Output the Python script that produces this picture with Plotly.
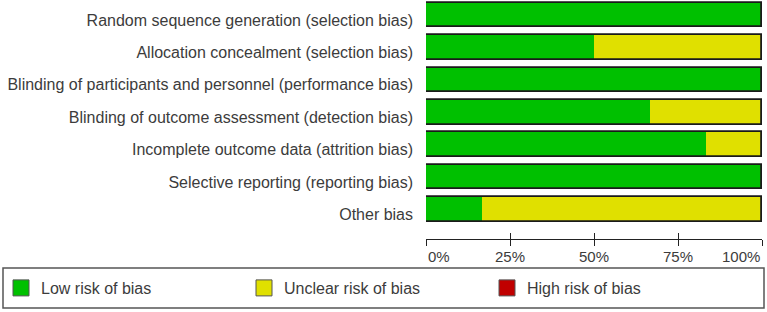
import plotly.graph_objects as go

domains = [
    "Random sequence generation (selection bias)",
    "Allocation concealment (selection bias)",
    "Blinding of participants and personnel (performance bias)",
    "Blinding of outcome assessment (detection bias)",
    "Incomplete outcome data (attrition bias)",
    "Selective reporting (reporting bias)",
    "Other bias",
]
low_risk = [100, 50, 100, 66.7, 83.3, 100, 16.7]
unclear_risk = [0, 50, 0, 33.3, 16.7, 0, 83.3]
high_risk = [0, 0, 0, 0, 0, 0, 0]
series_names = ["Low risk of bias", "Unclear risk of bias", "High risk of bias"]
tick_values = [0, 25, 50, 75, 100]
tick_labels = ["0%", "25%", "50%", "75%", "100%"]

GREEN = "#00c000"
YELLOW = "#e0e000"
RED = "#c00000"
COLORS = [GREEN, YELLOW, RED]
TEXT = "#3c3c3c"
FONT = "Liberation Sans, Arial, sans-serif"

W, H = 767, 312
ML, MR, MT, MB = 426, 5, 0, 73
PW = W - ML - MR
PH = H - MT - MB

def px_x(p):
    return (p - ML) / PW

def px_y(p):
    return (PH - (p - MT)) / PH

idx = list(range(len(domains)))
unclear_base = low_risk
high_base = [a + b for a, b in zip(low_risk, unclear_risk)]
totals = [a + b + c for a, b, c in zip(low_risk, unclear_risk, high_risk)]

fig = go.Figure()
bw = 0.76
for vals, base, name, col in zip([low_risk, unclear_risk, high_risk],
                                 [[0] * len(idx), unclear_base, high_base],
                                 series_names, COLORS):
    fig.add_trace(go.Bar(y=idx, x=vals, base=base, orientation="h",
                         name=name, width=bw, showlegend=False, legendgroup=name,
                         marker=dict(color=col, line=dict(width=0))))
# outline of each full bar
fig.add_trace(go.Bar(y=idx, x=totals, base=[0] * len(idx), orientation="h",
                     showlegend=False, width=bw, hoverinfo="skip",
                     marker=dict(color="rgba(0,0,0,0)", line=dict(color="#1a1a1a", width=1.8))))
# legend entries (larger square swatches)
for name, col in zip(series_names, COLORS):
    fig.add_trace(go.Scatter(x=[None], y=[None], mode="markers", name=name, legendgroup=name,
                             marker=dict(symbol="square", size=16, color=col,
                                         line=dict(color="#555", width=1))))

annotations = []
for v, t in zip(tick_values, tick_labels):
    anchor = "left" if v == tick_values[0] else ("right" if v == tick_values[-1] else "center")
    annotations.append(dict(x=v, xref="x", y=0, yref="paper", yanchor="top", xanchor=anchor,
                            yshift=-7, text=t, showarrow=False,
                            font=dict(family=FONT, size=15, color=TEXT)))

fig.update_layout(
    width=W, height=H,
    margin=dict(l=ML, r=MR, t=MT, b=MB, autoexpand=False),
    paper_bgcolor="white", plot_bgcolor="white",
    barmode="overlay",
    bargap=0,
    font=dict(family=FONT, size=16, color=TEXT),
    xaxis=dict(range=[0, 100], tickvals=tick_values, showticklabels=False,
               ticks="outside", ticklen=6, tickwidth=1.2, tickcolor="#222",
               showline=True, linecolor="#222", linewidth=1.2,
               showgrid=False, zeroline=False, fixedrange=True),
    xaxis2=dict(range=[0, 100], tickvals=tick_values, showticklabels=False,
                ticks="inside", ticklen=6, tickwidth=1.2, tickcolor="#222",
                overlaying="x", side="bottom", anchor="y",
                showline=False, showgrid=False, zeroline=False),
    yaxis=dict(range=[6.91, -0.463], tickvals=idx, ticktext=domains,
               ticks="", showgrid=False, zeroline=False, showline=False,
               ticklabelstandoff=12, ticklabelshift=-5,
               tickfont=dict(family=FONT, size=16, color=TEXT)),
    legend=dict(orientation="h", x=px_x(1), xanchor="left",
                y=px_y(288), yanchor="middle",
                entrywidth=198, entrywidthmode="pixels",
                font=dict(family=FONT, size=16, color=TEXT),
                bgcolor="rgba(0,0,0,0)", traceorder="normal"),
    annotations=annotations,
    shapes=[dict(type="rect", xref="paper", yref="paper",
                 x0=px_x(3), x1=px_x(764), y0=px_y(268), y1=px_y(308),
                 line=dict(color="#555", width=1.5), fillcolor="rgba(0,0,0,0)")],
)
# dummy trace on xaxis2 so it renders its ticks
fig.add_trace(go.Scatter(x=[None], y=[None], xaxis="x2", yaxis="y", showlegend=False,
                         hoverinfo="skip"))

fig.write_html("out.html")
